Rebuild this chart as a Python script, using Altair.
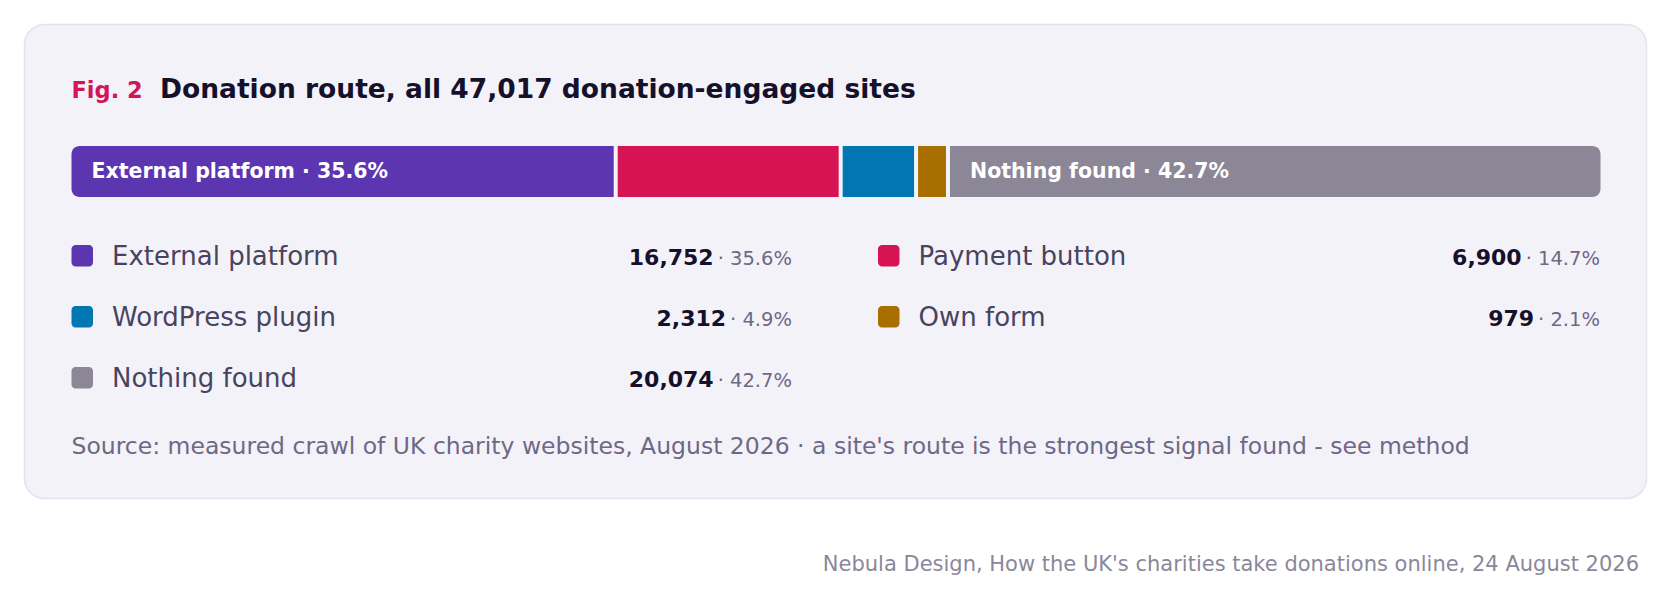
import altair as alt
import pandas as pd

routes = ["External platform", "Payment button", "WordPress plugin", "Own form", "Nothing found"]
counts = [16752, 6900, 2312, 979, 20074]
shares = [35.6, 14.7, 4.9, 2.1, 42.7]
colors = ["#5b36b0", "#d71453", "#0077b3", "#a86e00", "#8b8796"]

fig_label = "Fig. 2"
title = "Donation route, all 47,017 donation-engaged sites"
source = ("Source: measured crawl of UK charity websites, August 2026 \u00b7 "
          "a site's route is the strongest signal found - see method")
footer = "Nebula Design, How the UK's charities take donations online, 24 August 2026"

FONT = "DejaVu Sans"
INK = "#15112b"
total = sum(counts)

# bar segments
bar_df = pd.DataFrame({"route": routes, "count": counts, "share": shares})
bar_df["end"] = bar_df["count"].cumsum()
bar_df["start"] = bar_df["end"] - bar_df["count"]
bar_df["label"] = [f"{r} \u00b7 {s}%" if s >= 30 else "" for r, s in zip(routes, shares)]
bar_df["idx"] = range(len(routes))

# legend grid, two columns
col_left = [47, 853.5]
col_right = [767.5, 1575.5]
row_top = 220.5
row_gap = 61
PCT_SIZE = 19.5


def text_width(s, size):
    w = {".": 0.318, ",": 0.318, "%": 0.95, "\u00b7": 0.318, " ": 0.318}
    return sum(w.get(c, 0.636) for c in s) * size


leg = pd.DataFrame({"route": routes})
leg["col"] = [i % 2 for i in range(len(routes))]
leg["row"] = [i // 2 for i in range(len(routes))]
leg["num"] = [f"{c:,}" for c in counts]
leg["pct"] = [f"\u00b7 {s}%" for s in shares]
leg["sx"] = [col_left[c] for c in leg["col"]]
leg["sx2"] = leg["sx"] + 21.5
leg["sy"] = row_top + leg["row"] * row_gap
leg["sy2"] = leg["sy"] + 21.5
leg["lx"] = leg["sx"] + 40.5
leg["ty"] = leg["sy"] + 19.5
leg["px"] = [col_right[c] for c in leg["col"]]
leg["nx"] = [col_right[c] - text_width(p, PCT_SIZE) - 4 for c, p in zip(leg["col"], leg["pct"])]

bar_scale = alt.Scale(domain=[0, total], range=[45, 1578], nice=False, zero=False)
color = alt.Color("route:N", scale=alt.Scale(domain=routes, range=colors), legend=None)

base = alt.Chart(bar_df)
seg_first = base.transform_filter("datum.idx == 0").mark_bar(
    cornerRadiusTopLeft=8, cornerRadiusBottomLeft=8, xOffset=2, x2Offset=-2
).encode(x=alt.X("start:Q", scale=bar_scale, axis=None), x2="end:Q",
         y=alt.value(121.5), y2=alt.value(172.5), color=color)
seg_mid = base.transform_filter("datum.idx > 0 && datum.idx < 4").mark_bar(
    cornerRadius=0, xOffset=2, x2Offset=-2
).encode(x=alt.X("start:Q", scale=bar_scale, axis=None), x2="end:Q",
         y=alt.value(121.5), y2=alt.value(172.5), color=color)
seg_last = base.transform_filter("datum.idx == 4").mark_bar(
    cornerRadiusTopRight=8, cornerRadiusBottomRight=8, xOffset=2, x2Offset=-2
).encode(x=alt.X("start:Q", scale=bar_scale, axis=None), x2="end:Q",
         y=alt.value(121.5), y2=alt.value(172.5), color=color)
seg_text = base.mark_text(
    align="left", baseline="middle", dx=22, font=FONT, fontSize=20.5,
    fontWeight="bold", color="white"
).encode(x=alt.X("start:Q", scale=bar_scale, axis=None), y=alt.value(147.5), text="label:N")

head = alt.Chart(pd.DataFrame({"fig": [fig_label], "title": [title],
                               "source": [source], "footer": [footer]}))
fig_text = head.mark_text(align="left", baseline="alphabetic", font=FONT, fontSize=22.5,
                          fontWeight="bold", color="#d4145a").encode(
    x=alt.value(47), y=alt.value(73.5), text="fig:N")
title_text = head.mark_text(align="left", baseline="alphabetic", font=FONT, fontSize=26.5,
                            fontWeight="bold", color=INK).encode(
    x=alt.value(135.5), y=alt.value(73.5), text="title:N")
source_text = head.mark_text(align="left", baseline="alphabetic", font=FONT, fontSize=23.5,
                             fontWeight="normal", color="#6d6886").encode(
    x=alt.value(47), y=alt.value(429.5), text="source:N")
footer_text = head.mark_text(align="right", baseline="alphabetic", font=FONT, fontSize=21,
                             fontWeight="normal", color="#8b879a").encode(
    x=alt.value(1614.5), y=alt.value(546.5), text="footer:N")

lg = alt.Chart(leg)
swatch = lg.mark_rect(cornerRadius=4).encode(
    x=alt.X("sx:Q", scale=None, axis=None), x2="sx2:Q",
    y=alt.Y("sy:Q", scale=None, axis=None), y2="sy2:Q", color=color)
lab = lg.mark_text(align="left", baseline="alphabetic", font=FONT, fontSize=26,
                   fontWeight="normal", color="#48445f").encode(
    x=alt.X("lx:Q", scale=None, axis=None), y=alt.Y("ty:Q", scale=None, axis=None),
    text="route:N")
num = lg.mark_text(align="right", baseline="alphabetic", font=FONT, fontSize=22,
                   fontWeight="bold", color=INK).encode(
    x=alt.X("nx:Q", scale=None, axis=None), y=alt.Y("ty:Q", scale=None, axis=None),
    text="num:N")
pct = lg.mark_text(align="right", baseline="alphabetic", font=FONT, fontSize=PCT_SIZE,
                   fontWeight="normal", color="#6d6886").encode(
    x=alt.X("px:Q", scale=None, axis=None), y=alt.Y("ty:Q", scale=None, axis=None),
    text="pct:N")

chart = alt.layer(
    seg_first, seg_mid, seg_last, seg_text,
    fig_text, title_text, source_text, footer_text,
    swatch, lab, num, pct
).resolve_scale(x="independent", y="independent").properties(
    width=1622, height=474,
    padding={"left": 16.5, "top": 16.5, "right": 10, "bottom": 10},
    background="white"
).configure_view(
    fill="#f4f2f9", stroke="#e4e2ee", strokeWidth=1.5, cornerRadius=20
)

chart.save("out.html", embed_options={"renderer": "svg", "actions": False})
